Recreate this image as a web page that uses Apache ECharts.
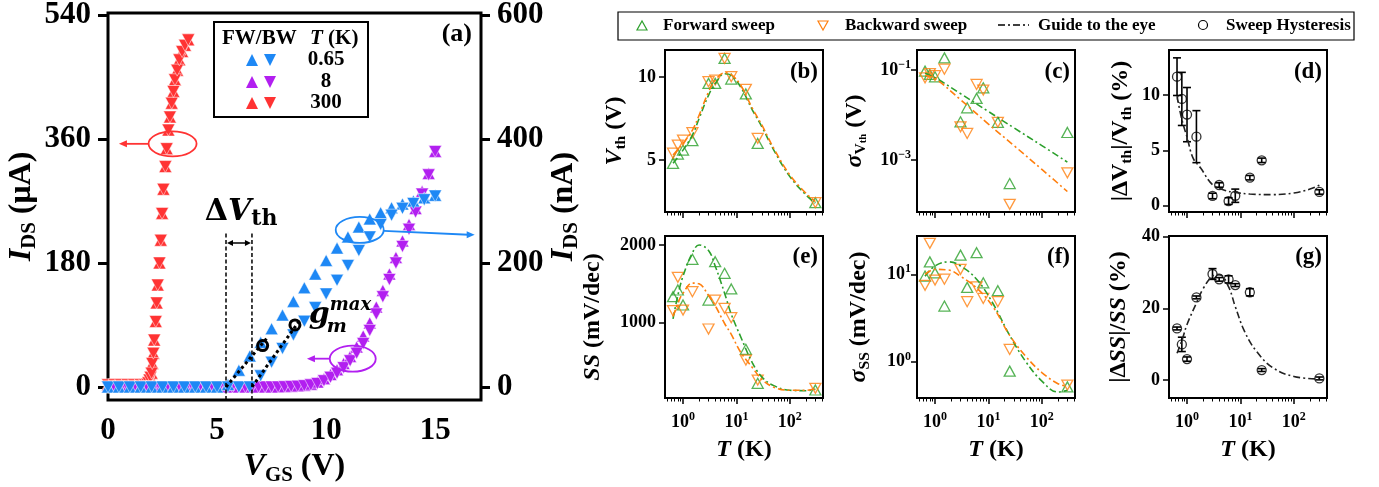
<!DOCTYPE html>
<html>
<head>
<meta charset="utf-8">
<title>Hysteresis vs temperature</title>
<script src="https://cdn.jsdelivr.net/npm/echarts@6.0.0/dist/echarts.min.js"></script>
<style>
  html, body { margin: 0; padding: 0; background: #fff; }
  #chart { width: 1379px; height: 487px; }
</style>
</head>
<body>
<div id="chart"></div>
<script>
// ---------- panel (a): transfer curves ----------
const blueV = [0, 0.5, 1, 1.5, 2, 2.5, 3, 3.5, 4, 4.5, 5, 5.5, 6, 6.5, 7, 7.5, 8, 8.5, 9, 9.5, 10, 10.5, 11, 11.5, 12, 12.5, 13, 13.5, 14, 14.5, 15];
const blueFW = [0, 0, 0, 0, 0, 0, 0, 0, 0, 0, 0, 4, 27, 50, 72, 94, 116, 138, 160, 182, 204, 224, 242, 258, 271, 281, 289, 295, 300, 305, 309]; // nA
const blueBW = [0, 0, 0, 0, 0, 0, 0, 0, 0, 0, 0, 0, 0, 0, 18, 40, 62, 84, 106, 128, 150, 172, 196, 220, 242, 262, 277, 288, 296, 302, 308];

const purpleV = [0, 0.3, 0.6, 0.9, 1.2, 1.5, 1.8, 2.1, 2.4, 2.7, 3, 3.3, 3.6, 3.9, 4.2, 4.5, 4.8, 5.1, 5.4, 5.7, 6, 6.3, 6.6, 6.9, 7.2, 7.5, 7.8, 8.1, 8.4, 8.7, 9, 9.3, 9.6, 9.9, 10.2, 10.5, 10.8, 11.1, 11.4, 11.7, 12, 12.3, 12.6, 12.9, 13.2, 13.5, 13.8, 14.1, 14.4, 14.7, 15];
const purpleFW = [0, 0, 0, 0, 0, 0, 0, 0, 0, 0, 0, 0, 0, 0, 0, 0, 0, 0, 0, 0, 0, 0, 0, 0, 0, 0, 0,
  0.5, 1, 1.5, 2.5, 4, 7, 12, 18, 25, 34, 44, 58, 74, 93, 116, 140, 164, 188, 212, 236, 259, 284, 310, 342]; // uA
const purpleBW = [0, 0, 0, 0, 0, 0, 0, 0, 0, 0, 0, 0, 0, 0, 0, 0, 0, 0, 0, 0, 0, 0, 0, 0, 0, 0, 0,
  0.3, 0.6, 1, 1.8, 3, 5, 9, 14, 20, 28, 38, 49, 63, 82, 106, 131, 156, 180, 204, 229, 254, 280, 308, 342];

const redV = [0, 0.3, 0.6, 0.9, 1.2, 1.5, 1.7, 1.8, 1.85, 1.9, 1.95, 2.0, 2.03, 2.08, 2.12, 2.19, 2.23, 2.28, 2.36, 2.42, 2.48, 2.54, 2.63, 2.69, 2.77, 2.84, 2.92, 3.0, 3.07, 3.17, 3.27, 3.4, 3.53, 3.68];
const redI = [3, 3, 3, 3, 3, 3, 3, 4, 6, 10, 14, 20, 34, 49, 68, 95, 122, 148, 180, 213, 252, 287, 320, 346, 373, 392, 412, 429, 446, 460, 475, 487, 496, 504]; // uA

// ---------- panels (b)-(g): vs temperature ----------
const T = [0.65, 0.8, 1, 1.5, 3, 4, 6, 8, 15, 25, 300];
const vthFW = [4.80, 5.36, 5.60, 6.17, 9.62, 9.62, 11.12, 9.88, 8.98, 6.0, 2.43];
const vthBW = [5.41, 5.90, 6.20, 6.65, 9.72, 9.82, 11.12, 10.02, 9.26, 6.31, 2.43];
const sigVthFW = [0.095, 0.080, 0.071, 0.187, 0.0071, 0.0145, 0.0234, 0.0405, 0.0069, 0.0003, 0.0041];
const sigVthBW = [0.0675, 0.084, 0.075, 0.105, 0.0055, 0.0039, 0.048, 0.036, 0.0069, 0.000104, 0.00052];
const dVth = [11.66, 9.65, 8.23, 6.24, 0.88, 1.87, 0.42, 0.9, 2.53, 4.1, 1.24];
const dVthErr = [1.7, 2.4, 2.45, 2.35, 0.25, 0.2, 0.3, 0.6, 0.2, 0.2, 0.2];
const ssFW = [1335, 1421, 1228, 1816, 1292, 1785, 1636, 1434, 658, 220, 134];
const ssBW = [1155, 1584, 1163, 1399, 919, 1292, 1185, 1064, 520, 262, 156];
const sigSsFW = [9.56, 13.9, 10.4, 4.34, 16.6, 7.1, 17.7, 8.0, 6.5, 0.78, 0.515];
const sigSsBW = [7.5, 22.7, 8.6, 8.8, 11.4, 4.86, 7.2, 5.3, 4.86, 1.38, 0.54];
const dSS = [14.4, 9.96, 5.86, 23.07, 29.6, 28.1, 28.1, 26.5, 24.5, 2.8, 0.46];
const dSSErr = [0.4, 2, 0.6, 0.4, 1.5, 0.5, 1.0, 0.4, 1.0, 0.4, 0.4];

// guide-to-the-eye curves
const guideTb = [0.65, 1, 1.5, 2, 3, 4, 6, 8, 12, 20, 30, 50, 100, 200, 300];
const guideVthFW = [4.8, 5.6, 6.5, 7.5, 8.9, 9.6, 10.2, 10.1, 9.4, 8.0, 7.0, 5.6, 4.0, 2.9, 2.4];
const guideVthBW = [5.3, 6.0, 6.8, 7.7, 9.1, 9.8, 10.25, 10.15, 9.5, 8.1, 7.1, 5.7, 4.1, 3.0, 2.5];
const guideTc = [0.65, 1, 3, 10, 30, 100, 300];
const guideSigVthFW = [0.085, 0.068, 0.030, 0.012, 0.0052, 0.0021, 0.0009];
const guideSigVthBW = [0.077, 0.065, 0.022, 0.0063, 0.0021, 0.00062, 0.0002];
const guideTd = [0.65, 0.8, 1, 1.3, 1.8, 3, 5, 8, 15, 40, 100, 200, 300];
const guideDVth = [9.9, 7.8, 6.2, 4.3, 3.4, 1.9, 1.4, 1.2, 1.05, 1.0, 1.15, 1.5, 1.85];
const guideTe = [0.65, 0.8, 1, 1.5, 2, 3, 4, 6, 8, 12, 20, 30, 50, 100, 200, 300];
const guideSsFW = [1050, 1350, 1600, 1900, 2000, 1930, 1730, 1380, 1110, 820, 480, 300, 190, 130, 125, 145];
const guideSsBW = [1080, 1250, 1380, 1510, 1500, 1350, 1220, 990, 850, 620, 420, 270, 170, 130, 130, 155];
const guideTf = [0.65, 1, 1.8, 3, 6, 12, 25, 50, 100, 200, 300];
const guideSigSsFW = [9.5, 12.5, 13.9, 12.5, 8.8, 4.7, 2.0, 1.0, 0.6, 0.45, 0.47];
const guideSigSsBW = [10, 11.4, 11.2, 9.5, 7.0, 4.3, 2.0, 1.15, 0.75, 0.56, 0.52];
const guideTg = [0.65, 0.8, 1, 1.5, 2, 3, 4, 6, 8, 12, 20, 40, 100, 300];
const guideDSS = [7.5, 11, 15.5, 21.5, 25.5, 29, 29.5, 26, 20.5, 13.5, 8, 3.5, 1, 0.3];

// tick labels
const majorT = [1, 10, 100];
const minorT = [0.5, 0.6, 0.7, 0.8, 0.9, 2, 3, 4, 5, 6, 7, 8, 9, 20, 30, 40, 50, 60, 70, 80, 90, 200, 300, 400];
const vgsTicks = [0, 5, 10, 15];
const iuaTicks = [0, 180, 360, 540];
const inaTicks = [0, 200, 400, 600];

const FONT = '"Liberation Serif", "Times New Roman", serif';
const MATH = '"DejaVu Serif", serif';
const BLUE = '#1e88f5', PURPLE = '#b21ff0', RED = '#ff3333';
const GREEN = '#2ca02c', ORANGE = '#ff7f0e';

const pairs = (xs, ys) => xs.map((x, i) => [x, ys[i]]);

function titleRich(size) {
  const base = { fontFamily: FONT, fontWeight: 'bold', fontSize: size, color: '#000', lineHeight: size * 1.2 };
  return {
    n: base,
    i: Object.assign({}, base, { fontStyle: 'italic' }),
    s: { fontFamily: FONT, fontWeight: 'bold', fontSize: size * 0.65, color: '#000', lineHeight: size * 0.5, verticalAlign: 'bottom' },
    ss: { fontFamily: FONT, fontWeight: 'bold', fontSize: size * 0.45, color: '#000', lineHeight: size * 0.2, verticalAlign: 'bottom' }
  };
}
const supRich = {
  b: { fontFamily: FONT, fontWeight: 'bold', fontSize: 18, color: '#000', lineHeight: 22 },
  s: { fontFamily: FONT, fontWeight: 'bold', fontSize: 12, color: '#000', lineHeight: 14, verticalAlign: 'top' }
};
function logLabel(v) {
  const e = Math.round(Math.log10(v));
  return '{b|10}{s|' + (e < 0 ? '\u2212' + (-e) : e) + '}';
}
const plain = v => String(v);

// ---------- grids ----------
const frame = { show: true, borderColor: '#000', borderWidth: 2, backgroundColor: 'transparent', outerBoundsMode: 'none', containLabel: false };
const grid = [
  Object.assign({ left: 108, top: 13, width: 373, height: 387 }, frame, { borderWidth: 3 }),
  Object.assign({ left: 665, top: 50, width: 158, height: 162 }, frame),
  Object.assign({ left: 917, top: 50, width: 158, height: 162 }, frame),
  Object.assign({ left: 1169, top: 50, width: 158, height: 162 }, frame),
  Object.assign({ left: 665, top: 236, width: 158, height: 162 }, frame),
  Object.assign({ left: 917, top: 236, width: 158, height: 162 }, frame),
  Object.assign({ left: 1169, top: 236, width: 158, height: 162 }, frame)
];

// ---------- axes ----------
const xAxis = [{
  type: 'value', gridIndex: 0, min: 0, max: 17.1, position: 'bottom',
  axisLine: { show: false, onZero: false }, axisTick: { show: false }, splitLine: { show: false },
  axisLabel: { customValues: vgsTicks, formatter: plain, color: '#000', fontFamily: FONT, fontWeight: 'bold', fontSize: 31, margin: 15 },
  name: '{i|V}{s|GS}{n| (V)}', nameLocation: 'middle', nameGap: 44, nameTextStyle: { rich: titleRich(32) }
}];
function addLogX(gridIndex, showLabel) {
  xAxis.push({
    type: 'log', gridIndex, min: 0.46, max: 417, position: 'bottom',
    axisLine: { show: false, onZero: false }, splitLine: { show: false },
    axisTick: { show: true, length: 6, customValues: majorT, lineStyle: { color: '#000', width: 1.5 } },
    axisLabel: { show: showLabel, customValues: majorT, formatter: logLabel, margin: 13, rich: supRich },
    name: showLabel ? '{i|T}{n| (K)}' : '', nameLocation: 'middle', nameGap: 37, nameTextStyle: { rich: titleRich(24) }
  });
  xAxis.push({
    type: 'log', gridIndex, min: 0.46, max: 417, position: 'bottom',
    axisLine: { show: false, onZero: false }, splitLine: { show: false }, axisLabel: { show: false },
    axisTick: { show: true, length: 3.5, customValues: minorT, lineStyle: { color: '#000', width: 1 } }
  });
}
addLogX(1, false); addLogX(2, false); addLogX(3, false);
addLogX(4, true); addLogX(5, true); addLogX(6, true);
// x axis index of panel p (1..6) is 2p-1

const yAxis = [{
  type: 'value', gridIndex: 0, position: 'left', min: -19, max: 543,
  axisLine: { show: false, onZero: false }, splitLine: { show: false },
  axisTick: { show: true, length: 10, customValues: iuaTicks, lineStyle: { color: '#000', width: 3 } },
  axisLabel: { customValues: iuaTicks, formatter: plain, color: '#000', fontFamily: FONT, fontWeight: 'bold', fontSize: 31, margin: 17 },
  name: '{i|I}{s|DS}{n| (\u03bcA)}', nameLocation: 'middle', nameRotate: 90, nameGap: 64, nameTextStyle: { rich: titleRich(32) }
}, {
  type: 'value', gridIndex: 0, position: 'right', min: -21, max: 603,
  axisLine: { show: false, onZero: false }, splitLine: { show: false },
  axisTick: { show: true, length: 9, customValues: inaTicks, lineStyle: { color: '#000', width: 3 } },
  axisLabel: { customValues: inaTicks, formatter: plain, color: '#000', fontFamily: FONT, fontWeight: 'bold', fontSize: 31, margin: 16 },
  name: '{i|I}{s|DS}{n| (nA)}', nameLocation: 'middle', nameRotate: 90, nameGap: 54, nameTextStyle: { rich: titleRich(32) }
}];
function addY(gridIndex, type, min, max, ticks, name, gap, isLog) {
  yAxis.push({
    type, gridIndex, min, max, position: 'left',
    axisLine: { show: false, onZero: false }, splitLine: { show: false },
    axisTick: { show: true, length: 6, customValues: ticks, lineStyle: { color: '#000', width: 1.5 } },
    axisLabel: isLog
      ? { customValues: ticks, formatter: logLabel, rich: supRich, margin: 6 }
      : { customValues: ticks, formatter: plain, color: '#000', fontFamily: FONT, fontWeight: 'bold', fontSize: 18, margin: 9 },
    name, nameLocation: 'middle', nameRotate: 90, nameGap: gap, nameTextStyle: { rich: titleRich(24) }
  });
}
addY(1, 'value', 1.87, 11.63, [5, 10], '{i|V}{s|th}{n| (V)}', 36, false);
addY(2, 'log', 7e-5, 0.28, [0.1, 0.001], '{i|\u03c3}{s|V}{ss|th}{n| (V)}', 48, true);
addY(3, 'value', -0.57, 14.07, [0, 5, 10], '{n||\u0394V}{s|th}{n||/V}{s|th}{n| (%)}', 34, false);
addY(4, 'value', 31, 2116, [1000, 2000], '{i|SS}{n| (mV/dec)}', 58, false);
addY(5, 'log', 0.384, 27.5, [1, 10], '{i|\u03c3}{s|SS}{n| (mV/dec)}', 44, true);
addY(6, 'value', -5, 40.2, [0, 20, 40], '{n||\u0394}{i|SS}{n||/}{i|SS}{n| (%)}', 36, false);
// y axis index of panel p (1..6) is p+1

// ---------- series ----------
const series = [];
function sweep(xs, ys, color, yi, down) {
  series.push({
    type: 'scatter', xAxisIndex: 0, yAxisIndex: yi, data: pairs(xs, ys),
    symbol: 'triangle', symbolSize: [13, 12], symbolRotate: down ? 180 : 0,
    itemStyle: { color, borderColor: '#fff', borderWidth: 0.5, opacity: 1 }
  });
}
sweep(redV, redI, RED, 0, false); sweep(redV, redI, RED, 0, true);
sweep(purpleV, purpleFW, PURPLE, 0, false); sweep(purpleV, purpleBW, PURPLE, 0, true);
sweep(blueV, blueFW, BLUE, 1, false); sweep(blueV, blueBW, BLUE, 1, true);

function guide(p, xs, ys, color) {
  series.push({
    type: 'line', xAxisIndex: 2 * p - 1, yAxisIndex: p + 1, data: pairs(xs, ys),
    smooth: 0.4, showSymbol: false, silent: true,
    lineStyle: { color, width: 1.6, type: [7, 3, 2, 3] }
  });
}
function points(p, ys, color, down) {
  series.push({
    type: 'scatter', xAxisIndex: 2 * p - 1, yAxisIndex: p + 1, data: pairs(T, ys),
    symbol: 'triangle', symbolSize: [11, 10], symbolRotate: down ? 180 : 0,
    itemStyle: { color: 'rgba(255,255,255,0)', borderColor: color, borderWidth: 1.3 }
  });
}
function hysteresis(p, ys, errs) {
  series.push({
    type: 'custom', xAxisIndex: 2 * p - 1, yAxisIndex: p + 1,
    data: T.map((t, i) => [t, ys[i], errs[i]]),
    renderItem: (params, api) => {
      const x = api.value(0), y = api.value(1), e = api.value(2);
      const hi = api.coord([x, y + e]), lo = api.coord([x, y - e]);
      const st = { stroke: '#000', lineWidth: 1.6 };
      return {
        type: 'group', children: [
          { type: 'line', shape: { x1: hi[0], y1: hi[1], x2: lo[0], y2: lo[1] }, style: st },
          { type: 'line', shape: { x1: hi[0] - 4, y1: hi[1], x2: hi[0] + 4, y2: hi[1] }, style: st },
          { type: 'line', shape: { x1: lo[0] - 4, y1: lo[1], x2: lo[0] + 4, y2: lo[1] }, style: st }
        ]
      };
    }
  });
  series.push({
    type: 'scatter', xAxisIndex: 2 * p - 1, yAxisIndex: p + 1, data: pairs(T, ys),
    symbol: 'circle', symbolSize: 9,
    itemStyle: { color: 'rgba(255,255,255,0)', borderColor: '#000', borderWidth: 1.3 }
  });
}
guide(1, guideTb, guideVthFW, GREEN); guide(1, guideTb, guideVthBW, ORANGE);
points(1, vthFW, GREEN, false); points(1, vthBW, ORANGE, true);
guide(2, guideTc, guideSigVthFW, GREEN); guide(2, guideTc, guideSigVthBW, ORANGE);
points(2, sigVthFW, GREEN, false); points(2, sigVthBW, ORANGE, true);
guide(3, guideTd, guideDVth, '#222'); hysteresis(3, dVth, dVthErr);
guide(4, guideTe, guideSsFW, GREEN); guide(4, guideTe, guideSsBW, ORANGE);
points(4, ssFW, GREEN, false); points(4, ssBW, ORANGE, true);
guide(5, guideTf, guideSigSsFW, GREEN); guide(5, guideTf, guideSigSsBW, ORANGE);
points(5, sigSsFW, GREEN, false); points(5, sigSsBW, ORANGE, true);
guide(6, guideTg, guideDSS, '#222'); hysteresis(6, dSS, dSSErr);

const chart = echarts.init(document.getElementById('chart'));
chart.setOption({ animation: false, backgroundColor: '#fff', grid, xAxis, yAxis, series });

// ---------- annotations (data coordinates of panel a: V, uA) ----------
const ann = {
  redEllipse: [2.96, 353], redTip: [0.5, 353],
  blueEllipse: [11.54, 228], blueTip: [16.81, 221],
  purpleEllipse: [11.22, 41], purpleTip: [9.12, 41],
  dvLeft: 5.41, dvRight: 6.6, dvTop: 224, dvArrow: 209, dvLabel: [6.1, 253],
  tangent1: [[5.41, 0], [7.33, 72.6]], tangent2: [[6.6, 0], [8.8, 97]],
  gmCircles: [[7.09, 60], [8.57, 90]], gmLabel: [9.2, 97]
};
const P = d => chart.convertToPixel({ xAxisIndex: 0, yAxisIndex: 0 }, d);
const g = [];
const Z = 50;
function line(a, b, stroke, lw, dash) {
  g.push({ type: 'line', z: Z, shape: { x1: a[0], y1: a[1], x2: b[0], y2: b[1] }, style: { stroke, lineWidth: lw, lineDash: dash || null } });
}
function head(tip, dir, color, len, half) {
  const [x, y] = tip;
  g.push({ type: 'polygon', z: Z, shape: { points: [[x, y], [x - dir * len, y - half], [x - dir * len, y + half]] }, style: { fill: color } });
}
function ellipse(c, rx, ry, color) {
  g.push({ type: 'ellipse', z: Z, shape: { cx: c[0], cy: c[1], rx, ry }, style: { fill: 'none', stroke: color, lineWidth: 1.8 } });
}
function text(x, y, str, opts) {
  g.push({ type: 'text', z: Z, x, y, style: Object.assign({ text: str, fill: '#000', align: 'left', verticalAlign: 'middle' }, opts) });
}

// ellipses with arrows
let c = P(ann.redEllipse), t = P(ann.redTip);
ellipse(c, 24, 12.5, RED); line([c[0] - 24, c[1]], [t[0] + 6, t[1]], RED, 1.8); head(t, -1, RED, 8, 3.5);
c = P(ann.blueEllipse); t = P(ann.blueTip);
ellipse(c, 24, 13, BLUE); line([c[0] + 24, c[1] + 1], [t[0] - 6, t[1]], BLUE, 1.8); head(t, 1, BLUE, 8, 3.5);
c = P(ann.purpleEllipse); t = P(ann.purpleTip);
ellipse(c, 23, 13, PURPLE); line([c[0] - 23, c[1]], [t[0] + 6, t[1]], PURPLE, 1.8); head(t, -1, PURPLE, 8, 3.5);

// delta Vth markers
const bottomI = -19;
[ann.dvLeft, ann.dvRight].forEach(v => line(P([v, bottomI]), P([v, ann.dvTop]), '#000', 1.5, [4, 2.5]));
const aL = P([ann.dvLeft, ann.dvArrow]), aR = P([ann.dvRight, ann.dvArrow]);
line([aL[0] + 4, aL[1]], [aR[0] - 4, aR[1]], '#000', 1.5);
head([aL[0] + 1, aL[1]], -1, '#000', 6, 3); head([aR[0] - 1, aR[1]], 1, '#000', 6, 3);
const dvp = P(ann.dvLabel);
text(dvp[0], dvp[1], '{d|\u0394}{v|V}{s|th}', {
  align: 'center',
  rich: {
    d: { font: 'bold 30px ' + MATH, lineHeight: 36 },
    v: { font: 'italic bold 30px ' + MATH, lineHeight: 36 },
    s: { font: 'bold 22px ' + MATH, lineHeight: 14, verticalAlign: 'bottom' }
  }
});

// g_m^max tangents
[ann.tangent1, ann.tangent2].forEach(seg => line(P(seg[0]), P(seg[1]), '#000', 3, [3, 3]));
ann.gmCircles.forEach(p => {
  const q = P(p);
  g.push({ type: 'circle', z: Z + 1, shape: { cx: q[0], cy: q[1], r: 5 }, style: { fill: 'none', stroke: '#000', lineWidth: 3 } });
});
const gp = P(ann.gmLabel);
text(gp[0], gp[1] - 5, 'g', { font: 'italic bold 30px ' + MATH });
text(gp[0] + 21, gp[1] - 15, 'max', { font: 'italic bold 18px ' + MATH });
text(gp[0] + 18, gp[1] + 7, 'm', { font: 'italic bold 19px ' + MATH });

// panel (a) legend
g.push({ type: 'rect', z: Z, shape: { x: 214, y: 22, width: 154, height: 95 }, style: { fill: '#fff', stroke: '#000', lineWidth: 2 } });
text(222, 39, 'FW/BW', { font: 'bold 21px ' + FONT });
text(310, 39, '{i|T}{n| (K)}', { rich: { i: { font: 'italic bold 21px ' + FONT }, n: { font: 'bold 21px ' + FONT } } });
const legRows = [['0.65', BLUE, 60], ['8', PURPLE, 82], ['300', RED, 103]];
legRows.forEach(([lab, col, y]) => {
  g.push({ type: 'polygon', z: Z, shape: { points: [[246, y + 6], [258, y + 6], [252, y - 6]] }, style: { fill: col } });
  g.push({ type: 'polygon', z: Z, shape: { points: [[264, y - 6], [276, y - 6], [270, y + 6]] }, style: { fill: col } });
  text(326, y, lab, { font: 'bold 21px ' + FONT, align: 'center' });
});
text(472, 34, '(a)', { font: 'bold 26px ' + FONT, align: 'right' });

// panel letters
[['(b)', 818, 72], ['(c)', 1070, 72], ['(d)', 1322, 72], ['(e)', 818, 257], ['(f)', 1070, 257], ['(g)', 1322, 257]]
  .forEach(([s, x, y]) => text(x, y, s, { font: 'bold 23px ' + FONT, align: 'right' }));

// shared legend for (b)-(g)
g.push({ type: 'rect', z: Z, shape: { x: 618, y: 12, width: 736, height: 28 }, style: { fill: '#fff', stroke: '#000', lineWidth: 1.2 } });
g.push({ type: 'polygon', z: Z, shape: { points: [[637, 30], [647, 30], [642, 21]] }, style: { fill: 'none', stroke: GREEN, lineWidth: 1.2 } });
text(663, 26, 'Forward sweep', { font: 'bold 17px ' + FONT });
g.push({ type: 'polygon', z: Z, shape: { points: [[818, 21], [828, 21], [823, 30]] }, style: { fill: 'none', stroke: ORANGE, lineWidth: 1.2 } });
text(845, 26, 'Backward sweep', { font: 'bold 17px ' + FONT });
g.push({ type: 'line', z: Z, shape: { x1: 998, y1: 25, x2: 1029, y2: 25 }, style: { stroke: '#000', lineWidth: 1.3, lineDash: [7, 3, 2, 3] } });
text(1038, 26, 'Guide to the eye', { font: 'bold 17px ' + FONT });
g.push({ type: 'circle', z: Z, shape: { cx: 1203, cy: 25, r: 4.5 }, style: { fill: 'none', stroke: '#000', lineWidth: 1.2 } });
text(1226, 26, 'Sweep Hysteresis', { font: 'bold 17px ' + FONT });

chart.setOption({ graphic: { elements: g } });
</script>
</body>
</html>
